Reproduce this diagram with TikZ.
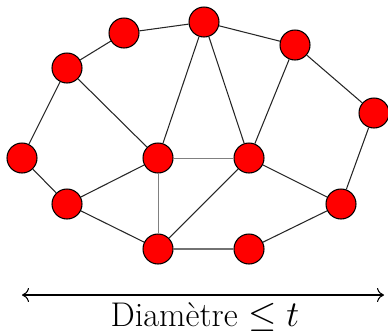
\documentclass[tikz,border=0pt]{standalone}
\usepackage{tikz}
\usetikzlibrary{arrows.meta}

\begin{document}
\begin{tikzpicture}[x=0.02cm, y=-0.02cm, >={Computer Modern Rightarrow[length=4pt,width=8pt]},
  vertex/.style={circle, draw=black, line width=0.6pt, fill=red, minimum size=0.6cm, inner sep=0pt},
  edge/.style={line width=0.6pt, black!85},
  thinedge/.style={line width=0.4pt, black!50}]
  \useasboundingbox (0,0) rectangle (388,332);

  \node[vertex] (topl) at (124,33) {};
  \node[vertex] (top) at (204,22) {};
  \node[vertex] (topr) at (295,45) {};
  \node[vertex] (upl) at (67,68) {};
  \node[vertex] (right) at (374,113) {};
  \node[vertex] (left) at (22,158) {};
  \node[vertex] (midl) at (158,158) {};
  \node[vertex] (midr) at (249,158) {};
  \node[vertex] (lowl) at (67,204) {};
  \node[vertex] (lowr) at (341,204) {};
  \node[vertex] (botl) at (158,249) {};
  \node[vertex] (botr) at (249,249) {};

  % outer cycle
  \draw[edge] (upl) -- (topl) -- (top) -- (topr) -- (right) -- (lowr) -- (botr) -- (botl) -- (lowl) -- (left) -- (upl);
  % inner edges
  \draw[edge] (upl) -- (midl);
  \draw[edge] (lowl) -- (midl);
  \draw[edge] (midl) -- (top) -- (midr) -- (topr);
  \draw[edge] (midr) -- (lowr);
  \draw[edge] (midr) -- (botl);
  \draw[thinedge] (midl) -- (midr);
  \draw[thinedge] (midl) -- (botl);

  \coordinate (arrl) at (22,295);
  \coordinate (arrr) at (384,295);
  \draw[<->, line width=0.6pt] (arrl) -- (arrr);
  \node[font=\fontsize{19.5}{23}\selectfont] (diam) at (205,317) {Diamètre $\leq t$};
\end{tikzpicture}
\end{document}
